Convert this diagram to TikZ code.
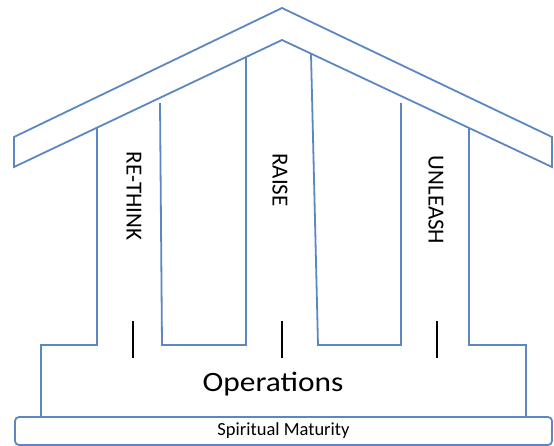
\documentclass[tikz,border=0pt]{standalone}
\usepackage{fontspec}
\setmainfont{Carlito}
\newfontfamily\largefont[FakeStretch=1.12]{Carlito}
\definecolor{bleutoit}{HTML}{5B87C2}

\begin{document}
\begin{tikzpicture}[x=1pt, y=-1pt]
\tikzset{trait/.style={draw=bleutoit, line width=1.8pt, line join=miter}}
\tikzset{tick/.style={draw=black, line width=1.8pt}}
\tikzset{mot/.style={rotate=-90, font=\fontsize{23}{23}\selectfont, inner sep=0pt}}
\useasboundingbox (0,0) rectangle (554,446);
\draw[trait] (14,137) -- (282,8) -- (552,137) -- (552,167) -- (282,40) -- (14,167) -- cycle;
\draw[trait] (97,128) -- (97,345) -- (41,345) -- (41,417);
\draw[trait] (469,128) -- (469,345) -- (526,345) -- (526,417);
\draw[trait] (160,103) -- (162,345) -- (246,345) -- (246,57);
\draw[trait] (311,54) -- (318,345) -- (401,345) -- (401,103);
\node[trait, rounded corners=4pt, minimum width=537pt, minimum height=28pt, inner sep=0pt,
  font=\fontsize{18.5}{18.5}\selectfont] (M) at (283.5,431) {Spiritual Maturity};
\node[font=\largefont\fontsize{28}{28}\selectfont, inner sep=0pt] (O) at (273,384) {Operations};
\node[mot] (T1) at (134,196) {RE-THINK};
\node[mot] (T2) at (280,180) {RAISE};
\node[mot] (T3) at (436,200) {UNLEASH};
\draw[tick] (133,321) -- (133,358);
\draw[tick] (282,321) -- (282,358);
\draw[tick] (437,321) -- (437,358);
\end{tikzpicture}
\end{document}
